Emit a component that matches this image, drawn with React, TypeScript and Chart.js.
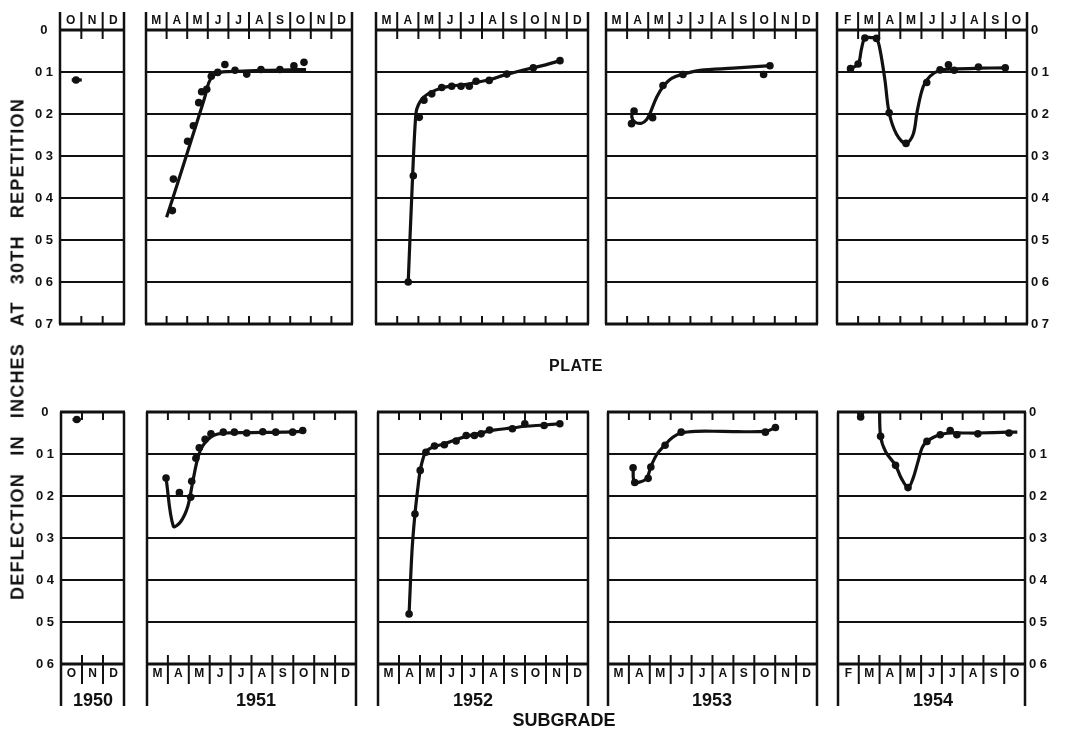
import React, { useEffect, useRef } from "react";
import { Chart, registerables } from "chart.js";
Chart.register(...registerables);

type P = [number, number];

// ---------- labels ----------
const MONTH_LETTERS = ["J", "F", "M", "A", "M", "J", "J", "A", "S", "O", "N", "D"];
const YEARS = ["1950", "1951", "1952", "1953", "1954"];
const FIRST_MONTH = [9, 2, 2, 2, 1]; // Jan = 0
const LAST_MONTH = [12, 12, 12, 12, 10];

const PLATE_Y_TICKS = [0, 0.1, 0.2, 0.3, 0.4, 0.5, 0.6, 0.7];
const PLATE_Y_LABELS = ["0", "0 1", "0 2", "0 3", "0 4", "0 5", "0 6", "0 7"];
const SUB_Y_TICKS = [0, 0.1, 0.2, 0.3, 0.4, 0.5, 0.6];
const SUB_Y_LABELS = ["0", "0 1", "0 2", "0 3", "0 4", "0 5", "0 6"];

const Y_TITLE = "DEFLECTION IN INCHES AT 30TH REPETITION";
const TOP_TITLE = "PLATE";
const BOTTOM_TITLE = "SUBGRADE";

// ---------- data: [month (Jan=0), deflection] ----------
const plate1950Line: P[] = [[9.55, 0.119], [10.02, 0.119]];
const plate1950Pts: P[] = [[9.75, 0.119]];

const plate1951Line: P[] = [[3.0, 0.446], [3.6, 0.355], [4.2, 0.262], [4.86, 0.159], [5.05, 0.125], [5.27, 0.108], [5.6, 0.101], [6.0, 0.099], [7.0, 0.097], [8.0, 0.096], [9.0, 0.095], [9.77, 0.094]];
const plate1951Pts: P[] = [[3.28, 0.43], [3.33, 0.355], [4.02, 0.265], [4.3, 0.228], [4.56, 0.173], [4.7, 0.147], [4.95, 0.141], [5.17, 0.11], [5.48, 0.101], [5.83, 0.082], [6.32, 0.096], [6.89, 0.105], [7.58, 0.094], [8.5, 0.094], [9.18, 0.085], [9.67, 0.077]];

const plate1952Line: P[] = [[3.52, 0.6], [3.7, 0.38], [3.88, 0.2], [4.0, 0.178], [4.25, 0.16], [4.6, 0.148], [5.1, 0.138], [5.6, 0.133], [6.2, 0.13], [6.8, 0.124], [7.4, 0.118], [8.0, 0.108], [8.6, 0.1], [9.4, 0.09], [10.0, 0.083], [10.68, 0.073]];
const plate1952Pts: P[] = [[3.52, 0.6], [3.76, 0.347], [4.04, 0.208], [4.26, 0.167], [4.63, 0.152], [5.1, 0.137], [5.57, 0.134], [6.01, 0.134], [6.4, 0.134], [6.72, 0.122], [7.34, 0.12], [8.17, 0.105], [9.42, 0.09], [10.68, 0.073]];

const plate1953Line: P[] = [[3.34, 0.19], [3.22, 0.205], [3.37, 0.219], [3.69, 0.222], [3.93, 0.213], [4.09, 0.198], [4.4, 0.16], [4.72, 0.134], [5.11, 0.115], [5.66, 0.105], [6.45, 0.096], [8.03, 0.091], [9.8, 0.085]];
const plate1953Pts: P[] = [[3.33, 0.193], [3.21, 0.223], [4.21, 0.209], [4.7, 0.132], [5.65, 0.106], [9.47, 0.106], [9.77, 0.085]];

const plate1954Line: P[] = [[1.64, 0.092], [2.0, 0.081], [2.16, 0.045], [2.32, 0.019], [2.6, 0.018], [2.87, 0.02], [3.03, 0.045], [3.27, 0.119], [3.47, 0.197], [3.82, 0.248], [4.27, 0.27], [4.61, 0.248], [4.8, 0.193], [5.09, 0.134], [5.41, 0.11], [5.88, 0.096], [6.51, 0.093], [7.7, 0.091], [8.97, 0.09]];
const plate1954Pts: P[] = [[1.64, 0.092], [2.0, 0.081], [2.32, 0.019], [2.87, 0.02], [3.47, 0.197], [4.27, 0.27], [5.25, 0.125], [5.88, 0.095], [6.28, 0.083], [6.55, 0.096], [7.7, 0.088], [8.97, 0.09]];

const sub1950Line: P[] = [[9.55, 0.018], [9.94, 0.018]];
const sub1950Pts: P[] = [[9.75, 0.018]];

const sub1951Line: P[] = [[2.91, 0.157], [3.26, 0.272], [3.6, 0.262], [3.95, 0.225], [4.2, 0.163], [4.45, 0.106], [4.69, 0.079], [5.17, 0.056], [5.8, 0.05], [7.0, 0.049], [8.5, 0.048], [9.48, 0.046]];
const sub1951Pts: P[] = [[2.91, 0.157], [3.55, 0.192], [4.09, 0.203], [4.14, 0.165], [4.34, 0.11], [4.5, 0.085], [4.78, 0.065], [5.06, 0.052], [5.65, 0.048], [6.18, 0.048], [6.77, 0.05], [7.54, 0.047], [8.16, 0.048], [8.97, 0.048], [9.45, 0.044]];

const sub1952Line: P[] = [[3.48, 0.481], [3.62, 0.33], [3.76, 0.243], [3.9, 0.18], [4.01, 0.139], [4.15, 0.11], [4.3, 0.093], [4.69, 0.082], [5.16, 0.076], [5.7, 0.066], [6.2, 0.058], [6.9, 0.05], [7.5, 0.043], [8.4, 0.038], [9.0, 0.034], [9.9, 0.031], [10.66, 0.028]];
const sub1952Pts: P[] = [[3.48, 0.481], [3.76, 0.243], [4.01, 0.139], [4.28, 0.096], [4.69, 0.081], [5.16, 0.078], [5.72, 0.069], [6.2, 0.056], [6.59, 0.056], [6.91, 0.052], [7.31, 0.043], [8.4, 0.04], [8.99, 0.028], [9.91, 0.032], [10.66, 0.028]];

const sub1953Line: P[] = [[3.2, 0.133], [3.25, 0.166], [3.5, 0.167], [3.85, 0.158], [4.05, 0.13], [4.35, 0.1], [4.73, 0.078], [5.1, 0.06], [5.5, 0.05], [6.2, 0.046], [7.5, 0.046], [9.53, 0.046], [10.01, 0.037]];
const sub1953Pts: P[] = [[3.2, 0.133], [3.28, 0.168], [3.92, 0.158], [4.05, 0.131], [4.73, 0.079], [5.5, 0.048], [9.53, 0.048], [10.01, 0.037]];

const sub1954LineA: P[] = [[1.95, -0.004], [2.09, 0.016], [2.22, -0.004]];
const sub1954LineB: P[] = [[3.0, -0.02], [3.05, 0.058], [3.3, 0.095], [3.77, 0.127], [4.05, 0.158], [4.37, 0.18], [4.6, 0.16], [4.84, 0.12], [5.05, 0.085], [5.28, 0.07], [5.6, 0.06], [5.92, 0.054], [6.4, 0.05], [7.0, 0.05], [7.73, 0.05], [9.23, 0.048], [9.63, 0.048]];
const sub1954Pts: P[] = [[2.09, 0.012], [3.05, 0.058], [3.77, 0.127], [4.37, 0.18], [5.28, 0.07], [5.92, 0.054], [6.4, 0.044], [6.72, 0.054], [7.73, 0.052], [9.23, 0.05]];

const PLATE_LINES: P[][][] = [[plate1950Line], [plate1951Line], [plate1952Line], [plate1953Line], [plate1954Line]];
const PLATE_POINTS: P[][] = [plate1950Pts, plate1951Pts, plate1952Pts, plate1953Pts, plate1954Pts];
const SUB_LINES: P[][][] = [[sub1950Line], [sub1951Line], [sub1952Line], [sub1953Line], [sub1954LineA, sub1954LineB]];
const SUB_POINTS: P[][] = [sub1950Pts, sub1951Pts, sub1952Pts, sub1953Pts, sub1954Pts];

// ---------- layout ----------
const W = 1066;
const H = 744;
const ROW_TOP = [30, 412];
const ROW_BOTTOM = [324, 664];
const COL_LEFT = [[60, 146, 376, 606, 837], [61, 147, 378, 608, 838]];
const COL_RIGHT = [[124, 352, 588, 817, 1027], [124, 356, 588, 817, 1025]];
const HEADER_TOP = 12;
const FOOTER_BOTTOM = 684;
const SIDE_BOTTOM = 706;
const YEAR_X = [93, 256, 473, 712, 933];
const LABEL_W = 32;
const INK = "#111";
const FONT = '"Liberation Sans", Arial, Helvetica, sans-serif';

function decoPlugin(row: number, col: number) {
  return {
    id: "deco" + row + col,
    beforeDatasetsDraw(chart: any) {
      const ctx = chart.ctx as CanvasRenderingContext2D;
      const { left, right, top, bottom } = chart.chartArea;
      const xs = chart.scales.x;
      const m0 = FIRST_MONTH[col];
      const m1 = LAST_MONTH[col];
      const line = (x1: number, y1: number, x2: number, y2: number, w: number) => {
        ctx.lineWidth = w;
        ctx.beginPath();
        ctx.moveTo(x1, y1);
        ctx.lineTo(x2, y2);
        ctx.stroke();
      };
      ctx.save();
      ctx.strokeStyle = INK;
      ctx.fillStyle = INK;
      line(left - 1, top, right + 1, top, 3);
      line(left - 1, bottom, right + 1, bottom, 3);
      if (row === 0) {
        line(left, HEADER_TOP, left, bottom, 2.5);
        line(right, HEADER_TOP, right, bottom, 2.5);
      } else {
        line(left, top, left, SIDE_BOTTOM, 2.5);
        line(right, top, right, SIDE_BOTTOM, 2.5);
      }
      ctx.font = "bold 12px " + FONT;
      ctx.textAlign = "center";
      ctx.textBaseline = "middle";
      for (let m = m0; m < m1; m++) {
        const cx = xs.getPixelForValue(m + 0.5);
        ctx.fillText(MONTH_LETTERS[m], cx, row === 0 ? 21 : 674);
        if (m > m0) {
          const bx = xs.getPixelForValue(m);
          if (row === 0) {
            line(bx, HEADER_TOP, bx, top + 9, 2);
            line(bx, bottom - 8, bx, bottom, 2);
          } else {
            line(bx, top, bx, top + 8, 2);
            line(bx, bottom - 9, bx, FOOTER_BOTTOM, 2);
          }
        }
      }
      ctx.restore();
    },
  };
}

function Panel({ row, col }: { row: number; col: number }) {
  const ref = useRef<HTMLCanvasElement>(null);
  useEffect(() => {
    if (!ref.current) return;
    const lines = row === 0 ? PLATE_LINES[col] : SUB_LINES[col];
    const pts = row === 0 ? PLATE_POINTS[col] : SUB_POINTS[col];
    const yTicks = row === 0 ? PLATE_Y_TICKS : SUB_Y_TICKS;
    const yLabels = row === 0 ? PLATE_Y_LABELS : SUB_Y_LABELS;
    const showLabels = col === 0 || col === 4;
    const isRight = col === 4;
    const L = COL_LEFT[row][col];
    const R = COL_RIGHT[row][col];
    const datasets: any[] = lines.map((l) => ({
      data: l.map(([x, y]) => ({ x, y })),
      showLine: true,
      borderColor: INK,
      borderWidth: 3.2,
      pointRadius: 0,
      tension: 0.35,
      fill: false,
    }));
    datasets.push({
      data: pts.map(([x, y]) => ({ x, y })),
      showLine: false,
      pointRadius: 3.8,
      pointBackgroundColor: INK,
      pointBorderWidth: 0,
      backgroundColor: INK,
    });
    const chart = new Chart(ref.current, {
      type: "scatter",
      data: { datasets },
      options: {
        responsive: false,
        animation: false,
        devicePixelRatio: 1,
        events: [],
        layout: {
          padding: {
            left: showLabels && !isRight ? L - LABEL_W : L,
            right: isRight ? W - R - LABEL_W : W - R,
            top: ROW_TOP[row],
            bottom: H - ROW_BOTTOM[row],
          },
        },
        plugins: { legend: { display: false }, tooltip: { enabled: false } },
        scales: {
          x: { type: "linear", min: FIRST_MONTH[col], max: LAST_MONTH[col], display: false },
          y: {
            type: "linear",
            reverse: true,
            min: 0,
            max: yTicks[yTicks.length - 1],
            position: isRight ? "right" : "left",
            afterBuildTicks: (s: any) => {
              s.ticks = yTicks.map((v) => ({ value: v }));
            },
            afterFit: (s: any) => {
              s.width = showLabels ? LABEL_W : 0;
            },
            ticks: {
              display: showLabels,
              callback: (_v: any, i: number) => yLabels[i],
              color: INK,
              font: { family: FONT, weight: "bold", size: 13 },
              padding: isRight ? 4 : 7,
              crossAlign: isRight ? "near" : "center",
            },
            grid: { color: INK, lineWidth: 2, drawTicks: false },
            border: { display: false },
          },
        },
      } as any,
      plugins: [decoPlugin(row, col)],
    });
    return () => chart.destroy();
  }, [row, col]);
  return (
    <canvas
      ref={ref}
      width={W}
      height={H}
      style={{ position: "absolute", left: 0, top: 0, width: W, height: H }}
    />
  );
}

export default function App() {
  const cols = [0, 1, 2, 3, 4];
  return (
    <div
      style={{
        position: "absolute",
        left: 0,
        top: 0,
        width: W,
        height: H,
        background: "#fff",
        fontFamily: FONT,
        color: INK,
        overflow: "hidden",
      }}
    >
      {cols.map((c) => (
        <Panel key={"p" + c} row={0} col={c} />
      ))}
      {cols.map((c) => (
        <Panel key={"s" + c} row={1} col={c} />
      ))}
      {YEARS.map((y, i) => (
        <div
          key={y}
          style={{
            position: "absolute",
            left: YEAR_X[i],
            top: 700,
            transform: "translate(-50%, -50%)",
            fontWeight: 700,
            fontSize: 18,
            whiteSpace: "nowrap",
          }}
        >
          {y}
        </div>
      ))}
      <div
        style={{
          position: "absolute",
          left: 18,
          top: 349,
          transform: "translate(-50%, -50%) rotate(-90deg)",
          fontWeight: 700,
          fontSize: 18,
          letterSpacing: 1.2,
          wordSpacing: 11,
          whiteSpace: "nowrap",
        }}
      >
        {Y_TITLE}
      </div>
      <div
        style={{
          position: "absolute",
          left: 576,
          top: 366,
          transform: "translate(-50%, -50%)",
          fontWeight: 700,
          fontSize: 16,
          letterSpacing: 0.5,
          whiteSpace: "nowrap",
        }}
      >
        {TOP_TITLE}
      </div>
      <div
        style={{
          position: "absolute",
          left: 564,
          top: 720,
          transform: "translate(-50%, -50%)",
          fontWeight: 700,
          fontSize: 18,
          whiteSpace: "nowrap",
        }}
      >
        {BOTTOM_TITLE}
      </div>
    </div>
  );
}
